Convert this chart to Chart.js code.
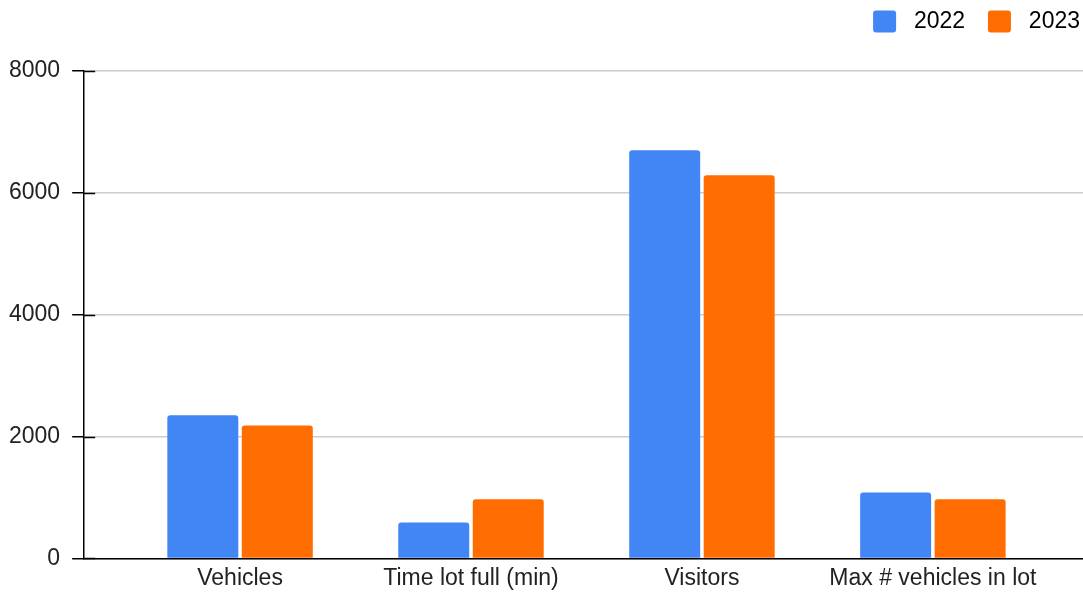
<!DOCTYPE html>
<html>
<head>
<meta charset="utf-8">
<script src="https://cdn.jsdelivr.net/npm/chart.js@4"></script>
<style>
  html, body { margin: 0; padding: 0; background: #fff; }
  #wrap { width: 1083px; height: 592px; }
</style>
</head>
<body>
<div id="wrap"><canvas id="chart"></canvas></div>
<script>
// data
const categories = ['Vehicles', 'Time lot full (min)', 'Visitors', 'Max # vehicles in lot'];
const seriesNames = ['2022', '2023'];
const values2022 = [2350, 590, 6700, 1080];
const values2023 = [2180, 970, 6290, 970];
const yTicks = [0, 2000, 4000, 6000, 8000];

const FONT = "'Liberation Sans', Arial, sans-serif";

// small stubs on the right of the y axis, like the original
const axisStubs = {
    id: 'axisStubs',
    afterDraw(chart) {
        const y = chart.scales.y;
        const x0 = chart.chartArea.left;
        const ctx = chart.ctx;
        ctx.save();
        ctx.strokeStyle = '#000';
        ctx.lineWidth = 1.5;
        y.ticks.forEach(t => {
            const py = Math.round(y.getPixelForValue(t.value)) + 0.5;
            ctx.beginPath();
            ctx.moveTo(x0, py);
            ctx.lineTo(x0 + 11, py);
            ctx.stroke();
        });
        ctx.restore();
    }
};

// extra room under the legend
const legendGap = {
    id: 'legendGap',
    beforeInit(chart) {
        const fit = chart.legend.fit;
        chart.legend.fit = function () {
            fit.bind(chart.legend)();
            this.height += 28;
        };
    }
};

new Chart(document.getElementById('chart'), {
    type: 'bar',
    data: {
        labels: categories.map((_, i) => i),
        datasets: [
            {
                label: seriesNames[0],
                data: values2022,
                backgroundColor: '#4285F4',
                borderRadius: 3,
                borderSkipped: 'start'
            },
            {
                label: seriesNames[1],
                data: values2023,
                backgroundColor: '#FF6D01',
                borderRadius: 3,
                borderSkipped: 'start'
            }
        ]
    },
    options: {
        responsive: true,
        maintainAspectRatio: false,
        animation: false,
        categoryPercentage: 0.645,
        barPercentage: 0.953,
        layout: { padding: { top: 0, right: -7, left: -3, bottom: -6 } },
        plugins: {
            legend: {
                position: 'top',
                align: 'end',
                labels: {
                    boxWidth: 23,
                    boxHeight: 22,
                    padding: 10,
                    color: '#222',
                    font: { family: FONT, size: 23 },
                    generateLabels(chart) {
                        return chart.data.datasets.map((ds, i) => ({
                            text: ' ' + ds.label + (i === 0 ? '  ' : ''),
                            fillStyle: ds.backgroundColor,
                            strokeStyle: ds.backgroundColor,
                            lineWidth: 0,
                            borderRadius: 3,
                            datasetIndex: i
                        }));
                    }
                }
            },
            tooltip: { enabled: false }
        },
        scales: {
            x: {
                type: 'linear',
                offset: false,
                min: -0.675,
                max: 3.65,
                grid: { display: false, drawTicks: false },
                border: { color: '#000', width: 1.5 },
                afterBuildTicks: scale => {
                    scale.ticks = scale.ticks.filter(t => Number.isInteger(t.value));
                },
                ticks: {
                    stepSize: 1,
                    autoSkip: false,
                    maxRotation: 0,
                    padding: 6,
                    color: '#222',
                    font: { family: FONT, size: 23 },
                    callback: v => categories[v] ?? ''
                }
            },
            y: {
                min: 0,
                max: 8000,
                afterBuildTicks: scale => {
                    scale.ticks = yTicks.map(v => ({ value: v }));
                },
                grid: {
                    color: '#cccccc',
                    tickColor: '#000',
                    tickLength: 12,
                    lineWidth: 1.5
                },
                border: { color: '#000', width: 1.5 },
                ticks: {
                    padding: 12,
                    color: '#222',
                    font: { family: FONT, size: 23 },
                    callback: v => String(v)
                }
            }
        }
    },
    plugins: [axisStubs, legendGap]
});
</script>
</body>
</html>
